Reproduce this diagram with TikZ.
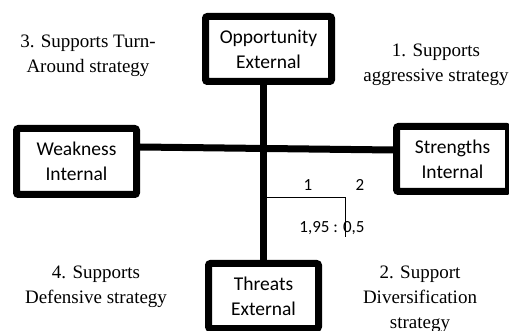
\documentclass[tikz,border=0pt]{standalone}
\usepackage{fontspec}
\setmainfont{Liberation Serif}
\setsansfont{Carlito}
\usetikzlibrary{positioning, calc}

\begin{document}
\begin{tikzpicture}[
    x=1pt, y=-1pt,
    box/.style={draw, line width=7pt, rounded corners=2pt, align=center, fill=white,
        font=\sffamily\fontsize{19.5}{25}\selectfont, inner sep=0pt},
    axis/.style={line width=7pt},
    thin_line/.style={line width=1pt},
    strategy_text/.style={align=center, font=\fontsize{19}{25}\selectfont},
    score_text/.style={font=\sffamily\fontsize{17}{20}\selectfont}
]
    \useasboundingbox (0,0) rectangle (509,331);
    \clip (0,0) rectangle (509,331);

    % Boxes
    \node[box, minimum width=126pt, minimum height=65pt] (opp) at (268.5,49) {Opportunity\\External};
    \node[box, minimum width=120pt, minimum height=66pt] (weak) at (76.5,161.5) {Weakness\\Internal};
    \node[box, minimum width=112pt, minimum height=65pt] (str) at (452.5,159) {Strengths\\Internal};
    \node[box, minimum width=110pt, minimum height=65pt] (thr) at (263.5,296) {Threats\\External};

    % Axes
    \draw[axis] (opp.south -| thr.north) -- (thr.north);
    \draw[axis] ([yshift=14.5pt]weak.east) -- ([yshift=9pt]str.west);

    % Strategy labels
    \node[strategy_text] (turn) at (88,56) {3. Supports Turn-\\Around strategy};
    \node[strategy_text] (aggr) at (436,65) {1. Supports\\aggressive strategy};
    \node[strategy_text] (def) at (96,287) {4. Supports\\Defensive strategy};
    \node[strategy_text] (div) at (420,299) {2. Support\\Diversification\\strategy};

    % Position marker
    \coordinate (split) at (345,198);
    \coordinate (splitend) at (345,237);
    \draw[thin_line] (split -| thr.north) -- (split) -- (splitend);
    \node[score_text] (one) at (308,185) {1};
    \node[score_text] (two) at (360,185) {2};
    \node[score_text] (ratio) at (332,228) {1,95 : 0,5};

\end{tikzpicture}
\end{document}
